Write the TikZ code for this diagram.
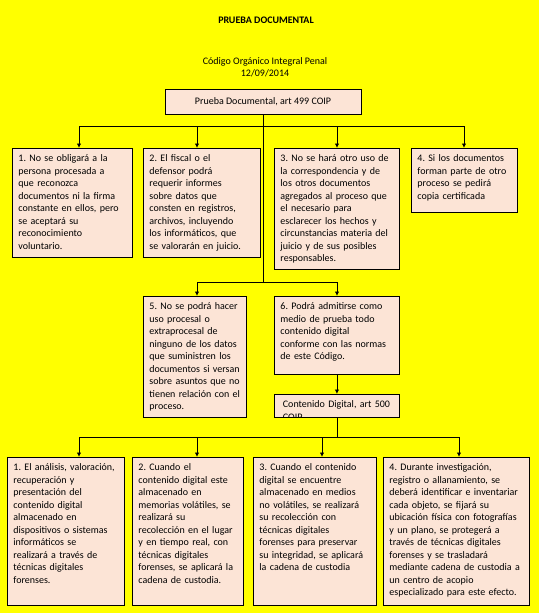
\documentclass[tikz,border=0pt]{standalone}
\usepackage{fontspec}
\setmainfont{Carlito}
\usetikzlibrary{arrows.meta}
\definecolor{peach}{HTML}{FCE4D6}
\definecolor{bgyellow}{HTML}{FFFF00}
\newcommand{\cardfont}{\fontsize{10}{12.5}\selectfont\frenchspacing}

\begin{document}
\begin{tikzpicture}[
    x=1pt, y=-1pt,
    every node/.style={font=\cardfont, text=black},
    card/.style={draw, line width=0.9pt, fill=peach, anchor=north west, align=left, inner xsep=6pt, inner ysep=4pt, text height=9.5pt},
    link/.style={line width=0.9pt},
    arr/.style={link, -{Latex[length=4.5pt,width=4.5pt]}}
]

    % Background
    \fill[bgyellow] (0,0) rectangle (539,613);
    \useasboundingbox (0,0) rectangle (539,613);

    % Titles
    \node[font=\cardfont\bfseries] (title) at (266,20) {PRUEBA DOCUMENTAL};
    \node[align=center] (code) at (265,67) {Código Orgánico Integral Penal\\12/09/2014};
    \node[draw, line width=0.9pt, fill=peach, minimum width=196pt, minimum height=25pt] (top) at (263,101.5) {Prueba Documental, art 499 COIP};

    % First row
    \node[card, text width=108pt, text depth=91.5pt] (n1) at (12,148) {1. No se obligará a la\\persona procesada a\\que reconozca\\documentos ni la firma\\constante en ellos, pero\\se aceptará su\\reconocimiento\\voluntario.};
    \node[card, text width=105pt, text depth=91.5pt] (n2) at (143,148) {2. El fiscal o el\\defensor podrá\\requerir informes\\sobre datos que\\consten en registros,\\archivos, incluyendo\\los informáticos, que\\se valorarán en juicio.};
    \node[card, text width=113pt, text depth=103.5pt] (n3) at (274,148) {3. No se hará otro uso de\\la correspondencia y de\\los otros documentos\\agregados al proceso que\\el necesario para\\esclarecer los hechos y\\circunstancias materia del\\juicio y de sus posibles\\responsables.};
    \node[card, text width=94pt, text depth=46.5pt] (n4) at (411,148) {4. Si los documentos\\forman parte de otro\\proceso se pedirá\\copia certificada};

    % Second row
    \node[card, text width=91pt, text depth=103.5pt] (n5) at (143,296) {5. No se podrá hacer\\uso procesal o\\extraprocesal de\\ninguno de los datos\\que suministren los\\documentos si versan\\sobre asuntos que no\\tienen relación con el\\proceso.};
    \node[card, text width=113pt, text depth=60.5pt] (n6) at (274,296) {6. Podrá admitirse como\\medio de prueba todo\\contenido digital\\conforme con las normas\\de este Código.};
    \node[card, minimum width=125pt, minimum height=23pt, path picture={
        \node[anchor=north west, align=left, inner xsep=8pt, inner ysep=4pt, text height=9pt, text width=109pt]
            at (path picture bounding box.north west) {Contenido Digital, art 500\\COIP};
    }] (n7) at (274,394) {};

    % Bottom row
    \node[card, text width=105pt, text depth=130.5pt] (m1) at (7,457) {1. El análisis, valoración,\\recuperación y\\presentación del\\contenido digital\\almacenado en\\dispositivos o sistemas\\informáticos se\\realizará a través de\\técnicas digitales\\forenses.};
    \node[card, text width=99pt, text depth=130.5pt] (m2) at (132,457) {2. Cuando el\\contenido digital este\\almacenado en\\memorias volátiles, se\\realizará su\\recolección en el lugar\\y en tiempo real, con\\técnicas digitales\\forenses, se aplicará la\\cadena de custodia.};
    \node[card, text width=111pt, text depth=130.5pt] (m3) at (253,457) {3. Cuando el contenido\\digital se encuentre\\almacenado en medios\\no volátiles, se realizará\\su recolección con\\técnicas digitales\\forenses para preservar\\su integridad, se aplicará\\la cadena de custodia};
    \node[card, text width=134pt, text depth=130.5pt] (m4) at (383,457) {4. Durante investigación,\\registro o allanamiento, se\\deberá identificar e inventariar\\cada objeto, se fijará su\\ubicación física con fotografías\\y un plano, se protegerá a\\través de técnicas digitales\\forenses y se trasladará\\mediante cadena de custodia a\\un centro de acopio\\especializado para este efecto.};

    % Bus points
    \coordinate (a1) at (79,126);
    \coordinate (a2) at (197,126);
    \coordinate (a3) at (337,126);
    \coordinate (a4) at (464,126);
    \coordinate (b1) at (197,282);
    \coordinate (b2) at (337,282);
    \coordinate (c1) at (79,437);
    \coordinate (c2) at (197,437);
    \coordinate (c3) at (322,437);
    \coordinate (c4) at (459,437);

    % Connectors
    \draw[link] (top.south) -- (top.south |- b1);
    \draw[link] (a1) -- (a4);
    \draw[link] (b1) -- (b2);
    \foreach \c/\n in {a1/n1, a2/n2, a3/n3, a4/n4, b1/n5, b2/n6}
        \draw[arr] (\c) -- (\c |- \n.north);
    \draw[arr] (n6.south) -- (n7.north);
    \draw[link] (n7.south) -- (n7.south |- c1);
    \draw[link] (c1) -- (c4);
    \foreach \c/\n in {c1/m1, c2/m2, c3/m3, c4/m4}
        \draw[arr] (\c) -- (\c |- \n.north);
\end{tikzpicture}
\end{document}
